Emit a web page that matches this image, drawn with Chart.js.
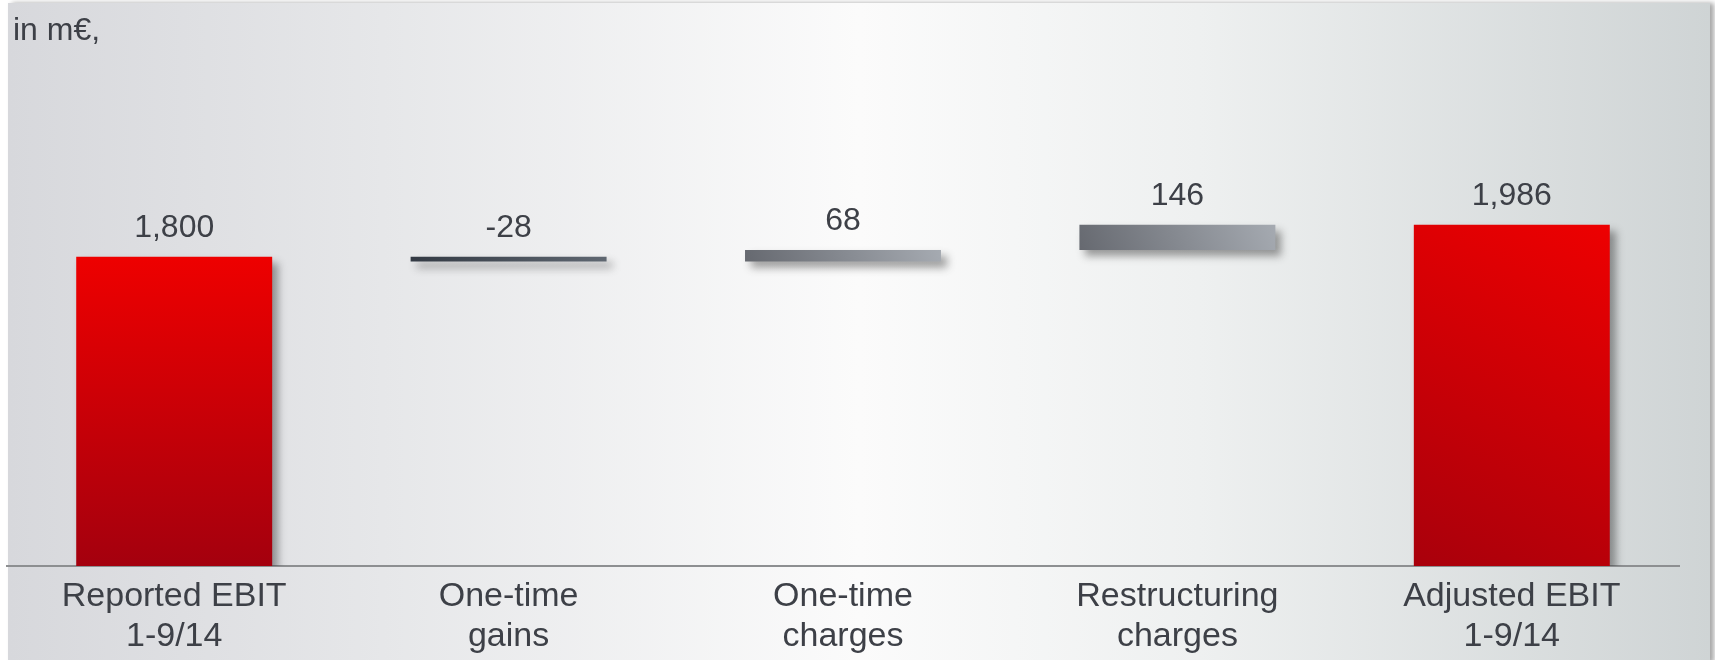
<!DOCTYPE html>
<html>
<head>
<meta charset="utf-8">
<script src="https://cdn.jsdelivr.net/npm/chart.js@4/dist/chart.umd.min.js"></script>
<style>
  html, body { margin: 0; padding: 0; background: #ffffff; }
  #wrap { position: relative; width: 1715px; height: 660px; overflow: hidden; }
  #panel {
    position: absolute; left: 8px; top: 3px; width: 1702px; height: 660px;
    background: linear-gradient(to right, #d7d8dc 0%, #e6e7e9 22%, #fbfbfb 50%, #eef0f0 70%, #cfd4d5 100%);
    box-shadow: 4px 0 5px rgba(0,0,0,0.35);
  }
  #chart { position: absolute; left: 0; top: 0; }
</style>
</head>
<body>
<div id="wrap">
  <div id="panel"></div>
  <canvas id="chart" width="1715" height="660"></canvas>
</div>
<script>
// EBIT bridge, 1-9/14, in m€
const categories = [
  ['Reported EBIT', '1-9/14'],
  ['One-time', 'gains'],
  ['One-time', 'charges'],
  ['Restructuring', 'charges'],
  ['Adjusted EBIT', '1-9/14']
];
const values = [1800, -28, 68, 146, 1986];
const isTotal = [true, false, false, false, true];
const unitLabel = 'in m€,';

// gradient styles per bar: [startColor, endColor, direction]
const barStyles = [
  ['#ee0000', '#a4000e', 'vertical'],
  ['#333a44', '#5f6771', 'horizontal'],
  ['#62656c', '#a9aeb5', 'diagonal'],
  ['#62656c', '#a9aeb5', 'diagonal'],
  ['#a4000c', '#f20000', 'diagonal']
];

// floating [from, to] ranges for the waterfall
const ranges = [];
let running = 0;
values.forEach((v, i) => {
  if (isTotal[i]) { ranges.push([0, v]); running = v; }
  else { ranges.push([running, running + v]); running += v; }
});

const textColor = '#3d4047';
const fontFamily = '"Liberation Sans", Arial, Helvetica, sans-serif';

function barGradient(ctx) {
  const chart = ctx.chart;
  const i = ctx.dataIndex;
  const fallback = barStyles[i === undefined ? 0 : i][0];
  if (i === undefined || !chart.chartArea || !chart.scales.x || !chart.scales.y) return fallback;
  const xs = chart.scales.x, ys = chart.scales.y;
  const cx = xs.getPixelForValue(i);
  const w = xs.width / categories.length * 0.586;
  const r = ranges[i];
  const top = ys.getPixelForValue(Math.max(r[0], r[1]));
  const bot = ys.getPixelForValue(Math.min(r[0], r[1]));
  if (![cx, w, top, bot].every(Number.isFinite) || w <= 0) return fallback;
  const [c0, c1, dir] = barStyles[i];
  let g;
  if (dir === 'vertical') g = chart.ctx.createLinearGradient(0, top, 0, bot);
  else if (dir === 'horizontal') g = chart.ctx.createLinearGradient(cx - w / 2, 0, cx + w / 2, 0);
  else g = chart.ctx.createLinearGradient(cx - w / 2, bot + w * 0.15, cx + w / 2, top - w * 0.15);
  g.addColorStop(0, c0);
  g.addColorStop(1, c1);
  return g;
}

const shadowPlugin = {
  id: 'barShadow',
  beforeDatasetsDraw(chart) {
    const c = chart.ctx;
    c.save();
    c.shadowColor = 'rgba(40,40,40,0.45)';
    c.shadowBlur = 8;
    c.shadowOffsetX = 6;
    c.shadowOffsetY = 6;
  },
  afterDatasetsDraw(chart) {
    chart.ctx.restore();
    const c = chart.ctx;
    const meta = chart.getDatasetMeta(0);
    c.save();
    c.fillStyle = textColor;
    c.font = '32px ' + fontFamily;
    c.textAlign = 'center';
    c.textBaseline = 'alphabetic';
    meta.data.forEach((el, i) => {
      const top = Math.min(el.y, el.base);
      c.fillText(values[i].toLocaleString('en-US'), el.x, top - 20);
    });
    c.textAlign = 'left';
    c.fillText(unitLabel, 13, 40);
    c.restore();
  }
};

const chart = new Chart(document.getElementById('chart'), {
  type: 'bar',
  data: {
    labels: categories,
    datasets: [{
      data: ranges,
      backgroundColor: barGradient,
      borderWidth: 0,
      borderSkipped: false,
      categoryPercentage: 1,
      barPercentage: 0.586
    }]
  },
  options: {
    responsive: false,
    animation: false,
    devicePixelRatio: 1,
    layout: { padding: { top: 85, left: 7, right: 36, bottom: 0 } },
    plugins: { legend: { display: false }, tooltip: { enabled: false }, title: { display: false } },
    scales: {
      y: { display: false, min: 0, max: 2800 },
      x: {
        grid: { display: false, drawTicks: false },
        border: { display: true, color: '#8d8f91', width: 2 },
        ticks: {
          color: textColor,
          padding: 11,
          maxRotation: 0,
          autoSkip: false,
          font: { family: fontFamily, size: 34, lineHeight: 40 / 34 }
        },
        afterFit(scale) { scale.height = 94; }
      }
    }
  },
  plugins: [shadowPlugin]
});
chart.update();
</script>
</body>
</html>
